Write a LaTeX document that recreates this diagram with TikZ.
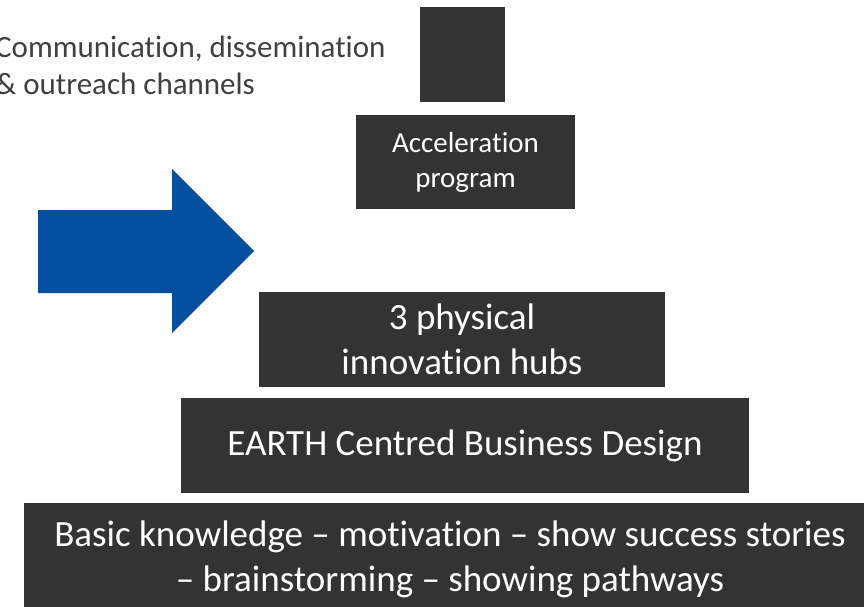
\documentclass[tikz,border=0pt]{standalone}
\usepackage{fontspec}
\setmainfont[Ligatures=NoCommon]{Carlito}
\definecolor{boxgray}{HTML}{333333}
\definecolor{textgray}{HTML}{404040}
\definecolor{arrowblue}{HTML}{044FA1}
\tikzset{
  block/.style={fill=boxgray, text=white, inner sep=0pt, align=center},
  bigtext/.style={font=\fontsize{37}{45}\selectfont},
  smalltext/.style={font=\fontsize{29}{35}\selectfont},
}
\begin{document}
\begin{tikzpicture}[x=1pt,y=-1pt]
\clip (0,0) rectangle (864,607);
\fill[white] (0,0) rectangle (864,607);
% top square
\node[block, minimum width=85pt, minimum height=95pt] (top) at (462.5,54.5) {};
% acceleration
\node[block, smalltext, minimum width=219pt, minimum height=94pt] (accel) at (465.5,162) {Acceleration\\program};
% hubs
\node[block, bigtext, minimum width=406pt, minimum height=95pt] (hubs) at (462,339.5) {3 physical\\innovation hubs};
% earth
\node[block, bigtext, minimum width=568pt, minimum height=95pt] (earth) at (465,445.5) {EARTH Centred Business Design};
% basic
\node[block, bigtext, minimum width=852pt, minimum height=112pt] (basic) at (450,559) {Basic knowledge – motivation – show success stories\\– brainstorming – showing pathways};
% communication text
\node[anchor=west, inner sep=0pt, align=left, text=textgray, font=\fontsize{31}{37}\selectfont] (comm) at (-5,65.5) {Communication, dissemination\\\& outreach channels};
% blue arrow
\fill[arrowblue] (38,210) -- (172,210) -- (172,169) -- (254,251) -- (172,333) -- (172,293) -- (38,293) -- cycle;
\end{tikzpicture}
\end{document}
